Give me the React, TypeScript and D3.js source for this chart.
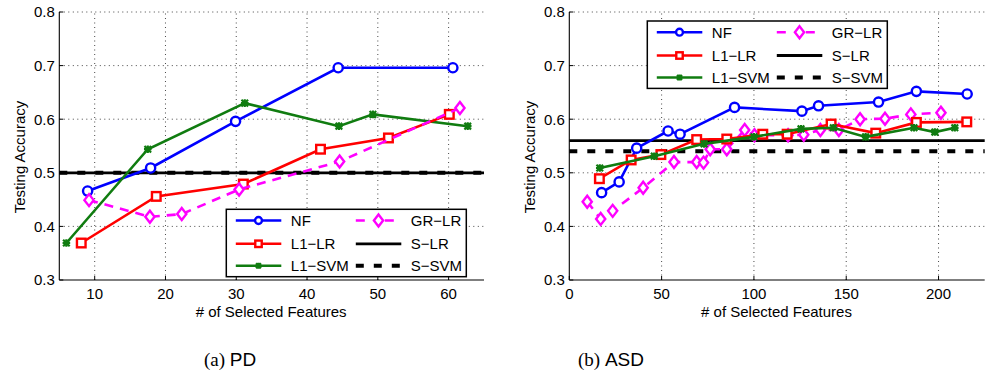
import React, {useRef, useEffect} from "react";
import * as d3 from "d3";

// PD panel
const pdNfX = [9, 17.9, 29.9, 44.4, 60.6];
const pdNfY = [0.466, 0.509, 0.596, 0.696, 0.696];
const pdL1lrX = [8.1, 18.7, 31, 41.9, 51.5, 60.1];
const pdL1lrY = [0.369, 0.456, 0.479, 0.544, 0.565, 0.609];
const pdL1svmX = [6, 17.5, 31.2, 44.5, 49.3, 62.7];
const pdL1svmY = [0.369, 0.544, 0.63, 0.587, 0.609, 0.587];
const pdGrlrX = [9.2, 17.8, 22.3, 30.4, 44.6, 61.6];
const pdGrlrY = [0.449, 0.418, 0.423, 0.469, 0.521, 0.621];
const pdSlr = 0.5;
const pdSsvm = 0.5;

// ASD panel
const asdNfX = [17.5, 27, 36.5, 53.5, 60, 89.5, 126, 135, 167.5, 188, 215.5];
const asdNfY = [0.463, 0.483, 0.546, 0.578, 0.572, 0.622, 0.615, 0.625, 0.632, 0.652, 0.647];
const asdL1lrX = [16.3, 33.5, 49.6, 69, 85.3, 104.8, 118, 141.8, 166, 188, 215.3];
const asdL1lrY = [0.489, 0.524, 0.534, 0.562, 0.563, 0.572, 0.572, 0.591, 0.574, 0.594, 0.595];
const asdL1svmX = [16.5, 46, 73, 100, 125.5, 143, 160.5, 186.7, 198, 208.8];
const asdL1svmY = [0.509, 0.531, 0.554, 0.567, 0.582, 0.584, 0.567, 0.584, 0.576, 0.584];
const asdGrlrX = [9.7, 17, 23.5, 40, 56.7, 69, 72.7, 76.3, 85.3, 95, 100.3, 118.5, 127, 136, 146, 157.5, 171, 185, 201.3];
const asdGrlrY = [0.446, 0.414, 0.429, 0.472, 0.52, 0.52, 0.519, 0.544, 0.544, 0.58, 0.57, 0.57, 0.571, 0.58, 0.58, 0.6, 0.601, 0.609, 0.612];
const asdSlr = 0.56;
const asdSsvm = 0.54;

const yTicks = [0.3, 0.4, 0.5, 0.6, 0.7, 0.8];
const pdXTicks = [10, 20, 30, 40, 50, 60];
const asdXTicks = [0, 50, 100, 150, 200];

const FONT = "'Liberation Sans', Arial, Helvetica, sans-serif";

const styles = {
    NF: {color: "#0000ff", marker: "circle", dash: null},
    "L1−LR": {color: "#ff0000", marker: "square", dash: null},
    "L1−SVM": {color: "#107c10", marker: "star", dash: null},
    "GR−LR": {color: "#ff00ff", marker: "diamond", dash: "9,7"},
};

const drawMarker = (g, type, x, y, color, s = 1) => {
    if (type === "circle") {
        g.append("circle").attr("cx", x).attr("cy", y).attr("r", 4.6 * s)
            .attr("fill", "white").attr("stroke", color).attr("stroke-width", 2.4);
    } else if (type === "square") {
        g.append("rect").attr("x", x - 4.3 * s).attr("y", y - 4.3 * s)
            .attr("width", 8.6 * s).attr("height", 8.6 * s)
            .attr("fill", "white").attr("stroke", color).attr("stroke-width", 2.4);
    } else if (type === "diamond") {
        g.append("path")
            .attr("d", `M${x},${y - 6 * s}L${x + 4.6 * s},${y}L${x},${y + 6 * s}L${x - 4.6 * s},${y}Z`)
            .attr("fill", "white").attr("stroke", color).attr("stroke-width", 2.4);
    } else {
        const r = 3.3 * s;
        g.append("path")
            .attr("d", `M${x - r},${y - r}L${x + r},${y + r}M${x - r},${y + r}L${x + r},${y - r}M${x},${y - r - 0.5}L${x},${y + r + 0.5}M${x - r - 0.5},${y}L${x + r + 0.5},${y}`)
            .attr("stroke", color).attr("stroke-width", 2.2).attr("fill", "none");
    }
};

const drawPanel = (svg, cfg) => {
    const {left, right, top, bottom, xDomain, xTicks, series, sLr, sSvm, legend} = cfg;
    const x = d3.scaleLinear().domain(xDomain).range([left, right]);
    const y = d3.scaleLinear().domain([0.3, 0.8]).range([bottom, top]);
    const g = svg.append("g");

    // dotted grid
    xTicks.forEach(t => {
        if (x(t) <= left + 0.5) return;
        g.append("line").attr("x1", x(t)).attr("x2", x(t)).attr("y1", bottom).attr("y2", top)
            .attr("stroke", "#333").attr("stroke-width", 0.9).attr("stroke-dasharray", "1,3.5");
    });
    yTicks.forEach(t => {
        if (t === 0.3) return;
        g.append("line").attr("x1", left).attr("x2", right).attr("y1", y(t)).attr("y2", y(t))
            .attr("stroke", "#333").attr("stroke-width", 0.9).attr("stroke-dasharray", "1,3.5");
    });

    // baselines
    g.append("line").attr("x1", left).attr("x2", right).attr("y1", y(sLr)).attr("y2", y(sLr))
        .attr("stroke", "black").attr("stroke-width", 2.8);
    g.append("line").attr("x1", left).attr("x2", right).attr("y1", y(sSvm)).attr("y2", y(sSvm))
        .attr("stroke", "black").attr("stroke-width", 4).attr("stroke-dasharray", "8,10");

    const line = d3.line().x(d => x(d[0])).y(d => y(d[1]));
    series.forEach(s => {
        const st = styles[s.name];
        const pts = s.xs.map((v, i) => [v, s.ys[i]]);
        g.append("path").datum(pts).attr("d", line).attr("fill", "none")
            .attr("stroke", st.color).attr("stroke-width", 2.6)
            .attr("stroke-dasharray", st.dash);
        pts.forEach(p => drawMarker(g, st.marker, x(p[0]), y(p[1]), st.color));
    });

    // axes
    g.append("line").attr("x1", left).attr("x2", left).attr("y1", top).attr("y2", bottom)
        .attr("stroke", "black").attr("stroke-width", 1.1);
    g.append("line").attr("x1", left).attr("x2", right).attr("y1", bottom).attr("y2", bottom)
        .attr("stroke", "black").attr("stroke-width", 1.1);
    yTicks.forEach(t => {
        g.append("line").attr("x1", left).attr("x2", left + 4).attr("y1", y(t)).attr("y2", y(t))
            .attr("stroke", "black");
        g.append("text").attr("x", left - 4.5).attr("y", y(t) + 5.3).attr("text-anchor", "end")
            .attr("font-family", FONT).attr("font-size", 15).text(d3.format(".1f")(t));
    });
    xTicks.forEach(t => {
        g.append("line").attr("x1", x(t)).attr("x2", x(t)).attr("y1", bottom).attr("y2", bottom - 4)
            .attr("stroke", "black");
        g.append("text").attr("x", x(t)).attr("y", bottom + 19).attr("text-anchor", "middle")
            .attr("font-family", FONT).attr("font-size", 15).text(t);
    });
    g.append("text").attr("x", (left + right) / 2 - 0.5).attr("y", bottom + 36.5).attr("text-anchor", "middle")
        .attr("font-family", FONT).attr("font-size", 15).text("# of Selected Features");
    g.append("text").attr("transform", `translate(${left - 34},${(top + bottom) / 2 + 11}) rotate(-90)`)
        .attr("text-anchor", "middle").attr("font-family", FONT).attr("font-size", 15)
        .text("Testing Accuracy");

    // legend
    const {lx, ly, lw, lh} = legend;
    const lg = g.append("g");
    lg.append("rect").attr("x", lx).attr("y", ly).attr("width", lw).attr("height", lh)
        .attr("fill", "white").attr("stroke", "black").attr("stroke-width", 1.5);
    const rows = [11.2, 34.5, 56.5];
    const items = [
        {name: "NF", col: 0, row: 0}, {name: "L1−LR", col: 0, row: 1}, {name: "L1−SVM", col: 0, row: 2},
        {name: "GR−LR", col: 1, row: 0}, {name: "S−LR", col: 1, row: 1}, {name: "S−SVM", col: 1, row: 2},
    ];
    items.forEach(it => {
        const x0 = lx + 9.5 + it.col * 120;
        const yy = ly + rows[it.row];
        const st = styles[it.name];
        if (st) {
            lg.append("line").attr("x1", x0).attr("x2", x0 + 45.5).attr("y1", yy).attr("y2", yy)
                .attr("stroke", st.color).attr("stroke-width", 2.6).attr("stroke-dasharray", st.dash ? "9,20" : null);
            drawMarker(lg, st.marker, x0 + 22.7, yy, st.color, it.name === "GR−LR" ? 1 : 0.75);
        } else {
            lg.append("line").attr("x1", x0).attr("x2", x0 + 45.5).attr("y1", yy).attr("y2", yy)
                .attr("stroke", "black").attr("stroke-width", it.name === "S−LR" ? 2.8 : 4)
                .attr("stroke-dasharray", it.name === "S−LR" ? null : "8,10");
        }
        lg.append("text").attr("x", x0 + 55).attr("y", yy + 5.4).attr("font-family", FONT)
            .attr("font-size", 15).text(it.name);
    });
};

const App = () => {
    const ref = useRef(null);

    useEffect(() => {
        const svg = d3.select(ref.current);
        svg.selectAll("*").remove();

        drawPanel(svg, {
            left: 59.3, right: 484, top: 12, bottom: 280,
            xDomain: [5, 65], xTicks: pdXTicks,
            series: [
                {name: "NF", xs: pdNfX, ys: pdNfY},
                {name: "L1−SVM", xs: pdL1svmX, ys: pdL1svmY},
                {name: "L1−LR", xs: pdL1lrX, ys: pdL1lrY},
                {name: "GR−LR", xs: pdGrlrX, ys: pdGrlrY},
            ],
            sLr: pdSlr, sSvm: pdSsvm,
            legend: {lx: 226.3, ly: 209.3, lw: 240, lh: 67.4},
        });

        drawPanel(svg, {
            left: 569.3, right: 984.7, top: 12, bottom: 280,
            xDomain: [0, 225], xTicks: asdXTicks,
            series: [
                {name: "NF", xs: asdNfX, ys: asdNfY},
                {name: "GR−LR", xs: asdGrlrX, ys: asdGrlrY},
                {name: "L1−LR", xs: asdL1lrX, ys: asdL1lrY},
                {name: "L1−SVM", xs: asdL1svmX, ys: asdL1svmY},
            ],
            sLr: asdSlr, sSvm: asdSsvm,
            legend: {lx: 647.3, ly: 21, lw: 240, lh: 67.4},
        });

        // captions
        [["(a)", "PD", 230], ["(b)", "ASD", 611]].forEach(([a, b, cx]) => {
            const t = svg.append("text").attr("x", cx).attr("y", 366).attr("text-anchor", "middle")
                .attr("font-size", 19);
            t.append("tspan").attr("font-family", "'Liberation Serif', 'DejaVu Serif', serif").text(a + " ");
            t.append("tspan").attr("font-family", FONT).text(b);
        });
    }, []);

    return (
        <div style={{position: "absolute", left: 0, top: 0}}>
            <svg ref={ref} width={987} height={379} style={{display: "block", background: "white"}}></svg>
        </div>
    );
};

export default App;
